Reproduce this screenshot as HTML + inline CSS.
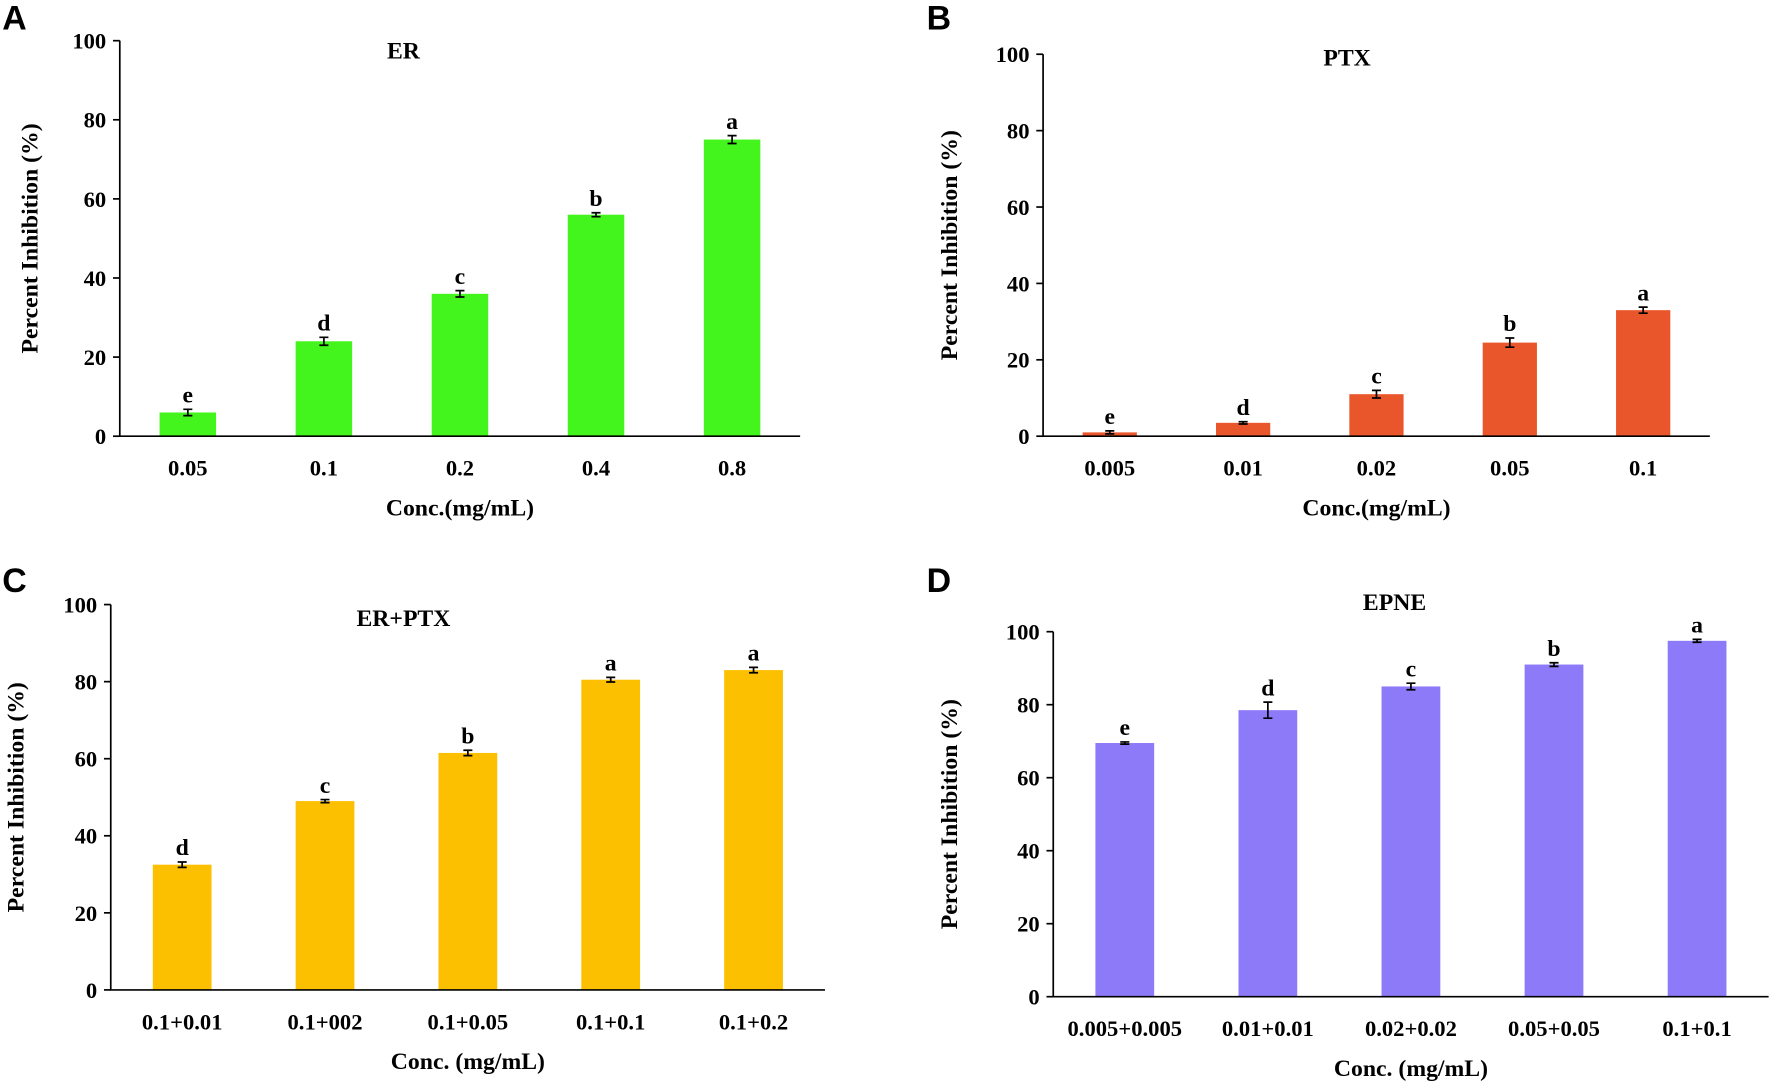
<!DOCTYPE html>
<html><head><meta charset="utf-8"><style>
html,body{margin:0;padding:0;background:#fff;}
svg{display:block;font-family:"Liberation Serif",serif;}
</style></head><body>
<svg id="fig" width="1772" height="1081" viewBox="0 0 1568 956.6" preserveAspectRatio="none" xmlns="http://www.w3.org/2000/svg"></svg>
<script>
const catsA=["0.05","0.1","0.2","0.4","0.8"];
const valsA=[6,24,36,56,75];
const errA=[0.8,1,0.8,0.5,1];
const letA=["e","d","c","b","a"];
const catsB=["0.005","0.01","0.02","0.05","0.1"];
const valsB=[1,3.5,11,24.5,33];
const errB=[0.4,0.3,1,1.2,0.8];
const letB=["e","d","c","b","a"];
const catsC=["0.1+0.01","0.1+002","0.1+0.05","0.1+0.1","0.1+0.2"];
const valsC=[32.5,49,61.5,80.5,83];
const errC=[0.7,0.4,0.7,0.6,0.7];
const letC=["d","c","b","a","a"];
const catsD=["0.005+0.005","0.01+0.01","0.02+0.02","0.05+0.05","0.1+0.1"];
const valsD=[69.5,78.5,85,91,97.5];
const errD=[0.3,2.2,0.9,0.5,0.4];
const letD=["e","d","c","b","a"];
const yTicks=[0,20,40,60,80,100];

const NS="http://www.w3.org/2000/svg";
const svg=document.getElementById('fig');
function mk(tag,attrs,parent,text){const e=document.createElementNS(NS,tag);for(const k in attrs)e.setAttribute(k,attrs[k]);if(text!==undefined)e.textContent=text;(parent||svg).appendChild(e);return e;}

function panel(p){
  const g=mk('g',{});
  
  
  const y=v=>p.y0-(v/100)*(p.y0-p.y100);
  const n=p.cats.length;
  const step=(p.xEnd-p.x0)/n;
  const x=i=>p.x0+step*(i+0.5);
  const L=mk('text',{x:p.lx,y:p.ly,'font-size':30,'font-weight':'bold','font-family':'Liberation Sans, sans-serif'},g,p.id);
  
  const T=mk('text',{x:p.tx,y:p.ty,'font-size':21,'font-weight':'bold','text-anchor':'middle'},g,p.title);
  
  p.vals.forEach((v,i)=>{
    const b=mk('rect',{x:x(i)-p.bw/2,y:y(v),width:p.bw,height:y(0)-y(v),fill:p.color},g);
    
    const e=p.err[i];
    const eb=mk('path',{d:`M${x(i)} ${y(v+e)}V${y(v-e)}M${x(i)-4} ${y(v+e)}H${x(i)+4}M${x(i)-4} ${y(v-e)}H${x(i)+4}`,stroke:'#000','stroke-width':1.5,fill:'none'},g);
    
    const lt=mk('text',{x:x(i),y:y(v+e)-6,'font-size':21,'font-weight':'bold','text-anchor':'middle'},g,p.lets[i]);
    
    const xl=mk('text',{x:x(i),y:y(0)+35,'font-size':20,'font-weight':'bold','text-anchor':'middle'},g,p.cats[i]);
    
  });
  const ax=mk('path',{d:`M${p.x0} ${p.y100}V${p.y0}H${p.xEnd}`,stroke:'#000','stroke-width':1.5,fill:'none'},g);
  
  yTicks.forEach(t=>{
    mk('line',{x1:p.x0-6,x2:p.x0,y1:y(t),y2:y(t),stroke:'#000','stroke-width':1.5},g);
    const tl=mk('text',{x:p.x0-12,y:y(t)+7,'font-size':20,'font-weight':'bold','text-anchor':'end'},g,String(t));
    
  });
  const yt=mk('text',{x:0,y:0,'font-size':21,'font-weight':'bold','text-anchor':'middle',transform:`translate(${p.ytx},${(p.y0+p.y100)/2}) rotate(-90)`},g,'Percent Inhibition (%)');
  
  const xt=mk('text',{x:(p.x0+p.xEnd)/2,y:p.y0+70,'font-size':21,'font-weight':'bold','text-anchor':'middle'},g,p.xtitle);
  
}
panel({id:'A',title:'ER',cats:catsA,vals:valsA,err:errA,lets:letA,color:'#44f51d',x0:106,xEnd:708,y0:386,y100:36,bw:50,lx:2,ly:26,tx:357,ty:52,ytx:33,xtitle:'Conc.(mg/mL)'});
panel({id:'B',title:'PTX',cats:catsB,vals:valsB,err:errB,lets:letB,color:'#ea562c',x0:923,xEnd:1513,y0:386,y100:48,bw:48,lx:820,ly:26,tx:1192,ty:58,ytx:847,xtitle:'Conc.(mg/mL)'});
panel({id:'C',title:'ER+PTX',cats:catsC,vals:valsC,err:errC,lets:letC,color:'#fdc000',x0:98,xEnd:730,y0:876,y100:535,bw:52,lx:2,ly:524,tx:357,ty:554,ytx:21,xtitle:'Conc. (mg/mL)'});
panel({id:'D',title:'EPNE',cats:catsD,vals:valsD,err:errD,lets:letD,color:'#8d7af8',x0:932,xEnd:1565,y0:882,y100:559,bw:52,lx:820,ly:524,tx:1234,ty:540,ytx:847,xtitle:'Conc. (mg/mL)'});
</script>
</body></html>
